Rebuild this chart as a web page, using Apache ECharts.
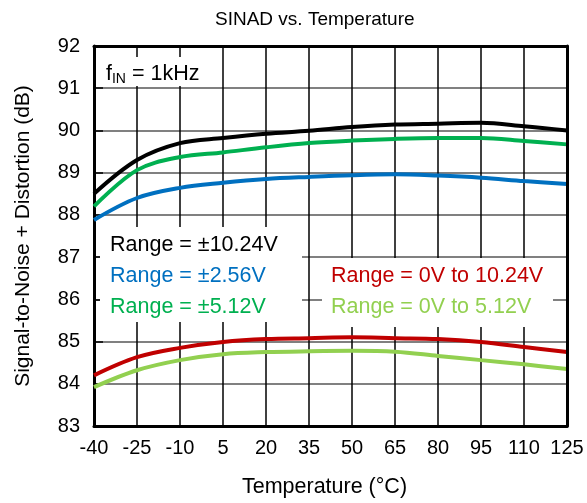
<!DOCTYPE html>
<html>
<head>
<meta charset="utf-8">
<script src="https://cdn.jsdelivr.net/npm/echarts@6/dist/echarts.min.js"></script>
<style>
  html, body { margin: 0; padding: 0; background: #fff; }
  #chart { width: 587px; height: 503px; }
</style>
</head>
<body>
<div id="chart"></div>
<script>
// Temperature points (°C) and SINAD (dB) for each input range
const temperatures = ['-40', '-25', '-10', '5', '20', '35', '50', '65', '80', '95', '110', '125'];
const range10_24Bipolar = [88.5, 89.3, 89.7, 89.82, 89.92, 89.99, 90.08, 90.14, 90.16, 90.18, 90.1, 90.0];
const range5_12Bipolar = [88.2, 89.06, 89.37, 89.48, 89.6, 89.7, 89.76, 89.8, 89.82, 89.82, 89.75, 89.67];
const range2_56Bipolar = [87.88, 88.4, 88.64, 88.76, 88.85, 88.9, 88.94, 88.96, 88.93, 88.88, 88.8, 88.73];
const range10_24Unipolar = [84.2, 84.63, 84.85, 84.99, 85.06, 85.08, 85.1, 85.08, 85.06, 84.99, 84.87, 84.75];
const range5_12Unipolar = [83.92, 84.32, 84.56, 84.7, 84.75, 84.77, 84.78, 84.76, 84.66, 84.56, 84.46, 84.35];
const yTicks = { min: 83, max: 92, step: 1 };

const FONT = '"Liberation Sans", Arial, sans-serif';

const seriesDefs = [
  { name: 'Range = ±10.24V', data: range10_24Bipolar, color: '#000000' },
  { name: 'Range = ±5.12V', data: range5_12Bipolar, color: '#00B050' },
  { name: 'Range = ±2.56V', data: range2_56Bipolar, color: '#0070C0' },
  { name: 'Range = 0V to 10.24V', data: range10_24Unipolar, color: '#C00000' },
  { name: 'Range = 0V to 5.12V', data: range5_12Unipolar, color: '#92D050' }
];

const chart = echarts.init(document.getElementById('chart'), null, { renderer: 'canvas' });

function label(text, x, y, color) {
  return {
    type: 'text', x: x, y: y, z: 10,
    style: { text: text, fill: color, font: '21.5px ' + FONT, verticalAlign: 'middle' }
  };
}

// frame axes drawn on top of the grid lines (top and right edges)
const frameAxisStyle = {
  axisLine: { show: true, lineStyle: { color: '#000', width: 3 } },
  axisTick: { show: false },
  axisLabel: { show: false },
  splitLine: { show: false },
  z: 6
};

chart.setOption({
  animation: false,
  backgroundColor: '#ffffff',
  title: {
    text: 'SINAD vs. Temperature',
    left: 210, top: 5,
    textStyle: { fontFamily: FONT, fontSize: 19, fontWeight: 'normal', color: '#000' }
  },
  grid: {
    left: 94, right: 20, top: 46, bottom: 77,
    show: false
  },
  xAxis: [{
    type: 'category',
    data: temperatures,
    boundaryGap: false,
    name: 'Temperature (°C)',
    nameLocation: 'middle',
    nameGap: 50,
    nameTextStyle: { fontFamily: FONT, fontSize: 21.5, color: '#000', padding: [0, 12, 0, 0] },
    axisLine: { show: true, lineStyle: { color: '#000', width: 3 } },
    axisTick: { show: false },
    axisLabel: { interval: 0, fontFamily: FONT, fontSize: 20, color: '#000', margin: 12 },
    splitLine: { show: true, interval: 0, lineStyle: { color: '#000', width: 1.5 } }
  }, Object.assign({
    type: 'category', data: temperatures, boundaryGap: false, position: 'top'
  }, frameAxisStyle)],
  yAxis: [{
    type: 'value',
    min: yTicks.min, max: yTicks.max, interval: yTicks.step,
    name: 'Signal-to-Noise + Distortion (dB)',
    nameLocation: 'middle',
    nameGap: 60,
    nameTextStyle: { fontFamily: FONT, fontSize: 21, color: '#000' },
    axisLine: { show: true, lineStyle: { color: '#000', width: 3 } },
    axisTick: { show: true, inside: true, length: 9, lineStyle: { color: '#000', width: 1.5 } },
    axisLabel: { fontFamily: FONT, fontSize: 20, color: '#000', margin: 14 },
    splitLine: { show: true, lineStyle: { color: '#808080', width: 2 } }
  }, Object.assign({
    type: 'value', min: yTicks.min, max: yTicks.max, interval: yTicks.step, position: 'right'
  }, frameAxisStyle)],
  series: seriesDefs.map(s => ({
    name: s.name,
    type: 'line',
    data: s.data,
    smooth: 0.35,
    showSymbol: false,
    z: 5,
    lineStyle: { color: s.color, width: 4 },
    itemStyle: { color: s.color }
  })),
  graphic: [
    // white panels behind the captions
    { type: 'rect', z: 3, shape: { x: 100, y: 227, width: 202, height: 95 }, style: { fill: '#fff' } },
    { type: 'rect', z: 3, shape: { x: 322, y: 258, width: 231, height: 69 }, style: { fill: '#fff' } },
    { type: 'rect', z: 3, shape: { x: 100, y: 57, width: 115, height: 29 }, style: { fill: '#fff' } },
    {
      type: 'text', x: 106, y: 74, z: 10,
      style: {
        text: '{m|f}{s|IN}{m| = 1kHz}',
        verticalAlign: 'middle',
        rich: {
          m: { fontFamily: FONT, fontSize: 21.5, color: '#000', lineHeight: 26 },
          s: { fontFamily: FONT, fontSize: 14, color: '#000', lineHeight: 26, padding: [10, 0, 0, 0] }
        }
      }
    },
    label('Range = ±10.24V', 110, 245, '#000000'),
    label('Range = ±2.56V', 110, 276, '#0070C0'),
    label('Range = ±5.12V', 110, 307, '#00B050'),
    label('Range = 0V to 10.24V', 331, 276, '#C00000'),
    label('Range = 0V to 5.12V', 331, 307, '#92D050')
  ]
});
</script>
</body>
</html>
